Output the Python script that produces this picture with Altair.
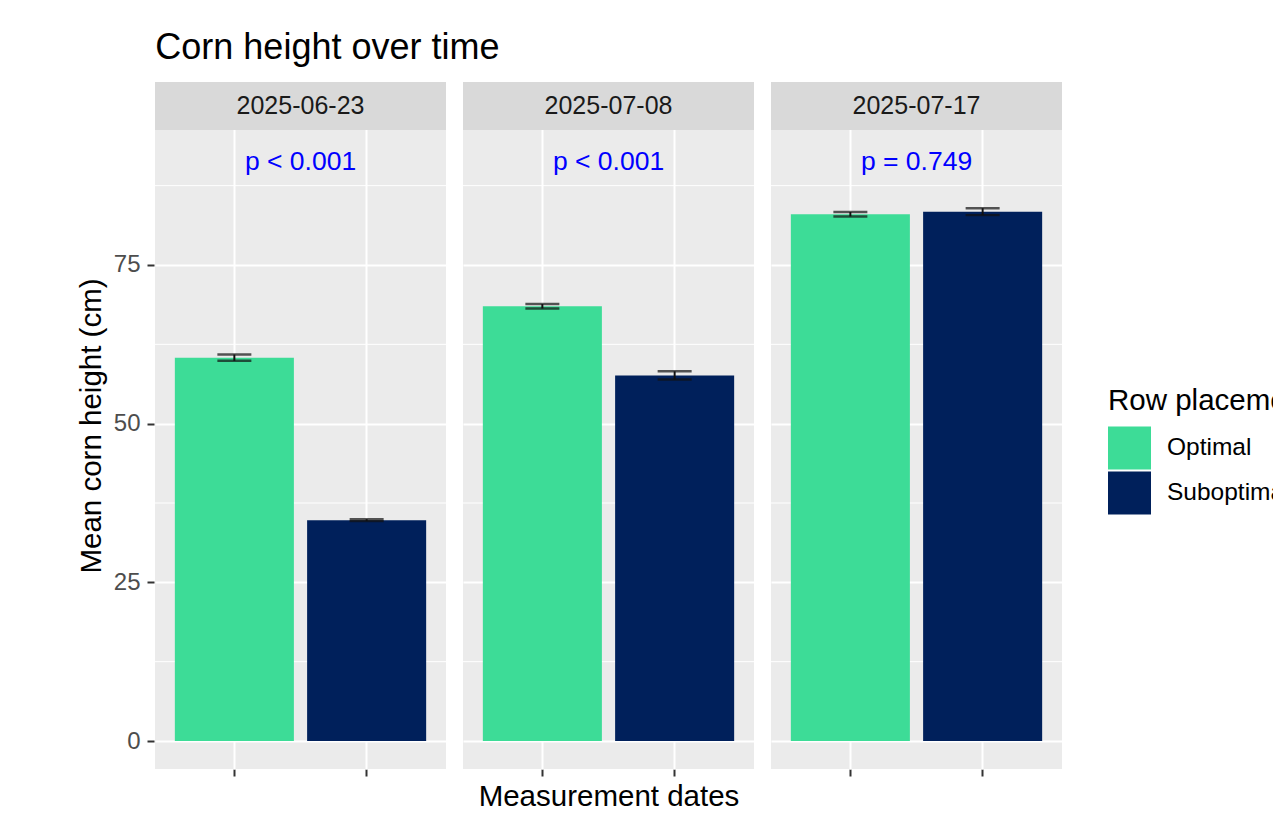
import altair as alt
import pandas as pd

# ---- data ----
DATES = ["2025-06-23", "2025-07-08", "2025-07-17"]
GROUPS = ["Optimal", "Suboptimal"]
OPT_MEAN = [60.4, 68.5, 83.0]
SUB_MEAN = [34.8, 57.6, 83.4]
OPT_SE = [0.5, 0.35, 0.35]
SUB_SE = [0.15, 0.65, 0.55]
P_LABELS = ["p < 0.001", "p < 0.001", "p = 0.749"]
P_LABEL_Y = 91.2
Y_TICKS = [0, 25, 50, 75]
COLORS = ["#3DDC97", "#00205B"]

rows = []
for i, d in enumerate(DATES):
    for g, m, s in ((GROUPS[0], OPT_MEAN[i], OPT_SE[i]), (GROUPS[1], SUB_MEAN[i], SUB_SE[i])):
        rows.append({"Date": d, "Group": g, "Mean": m, "Low": m - s, "High": m + s, "P": P_LABELS[i]})
df = pd.DataFrame(rows)

# ---- layout ----
W = 291
H = 687
Y_DOMAIN = [-4.41, 103.83]
PANEL_TOP = 96.27
FONT = "Liberation Sans"
step = Y_TICKS[1] - Y_TICKS[0]
MINOR = [t + step / 2 for t in Y_TICKS]

y_scale = alt.Scale(domain=Y_DOMAIN, nice=False, zero=False)
y_axis = alt.Axis(values=Y_TICKS, title="Mean corn height (cm)", domain=False,
                  grid=True, gridColor="white", gridWidth=2,
                  tickColor="#333333", tickSize=7, tickWidth=2,
                  labelFontSize=24, labelColor="#4D4D4D", labelPadding=7,
                  titleFontSize=29.5, titleColor="black", titleFontWeight="normal",
                  titlePadding=7, titleFont=FONT, labelFont=FONT)
x_enc = alt.X("Group:N", sort=GROUPS,
              scale=alt.Scale(paddingInner=0.1, paddingOuter=0.15),
              axis=alt.Axis(labels=False, title=None, domain=False, ticks=True,
                            tickSize=7, tickColor="#333333", tickWidth=2,
                            grid=True, gridColor="white", gridWidth=2,
                            bandPosition=0.5))

one = alt.datum.Group == GROUPS[0]

minor = alt.Chart().transform_filter(one).transform_calculate(
    minor=str(MINOR)).transform_flatten(["minor"]).mark_rule(
    color="white", strokeWidth=1).encode(
    y=alt.Y("minor:Q", scale=y_scale, axis=y_axis))

bars = alt.Chart().mark_bar().encode(
    x=x_enc,
    y=alt.Y("Mean:Q", scale=y_scale, axis=y_axis),
    color=alt.Color("Group:N", scale=alt.Scale(domain=GROUPS, range=COLORS),
                    legend=alt.Legend(title="Row placement", orient="none",
                                      legendX=953, legendY=305,
                                      symbolType="square", symbolSize=1849,
                                      symbolStrokeWidth=0, labelFontSize=24.5,
                                      titleFontSize=29.5, titleFontWeight="normal",
                                      titleColor="black", labelColor="black",
                                      labelOffset=16, rowPadding=2,
                                      titlePadding=10, titleFont=FONT,
                                      labelFont=FONT, padding=0,
                                      titleLimit=600, labelLimit=600)))

err = alt.Chart().mark_rule(color="#111111", strokeWidth=2).encode(
    x=x_enc, y=alt.Y("Low:Q", scale=y_scale, axis=y_axis), y2="High:Q")
cap_lo = alt.Chart().mark_tick(color="#111111", size=34, thickness=2.4).encode(
    x=x_enc, y=alt.Y("Low:Q", scale=y_scale, axis=y_axis))
cap_hi = alt.Chart().mark_tick(color="#111111", size=34, thickness=2.4).encode(
    x=x_enc, y=alt.Y("High:Q", scale=y_scale, axis=y_axis))

strip = alt.Chart().transform_filter(one).mark_rect(color="#D9D9D9").encode(
    x=alt.value(0), x2=alt.value(W),
    y=alt.datum(PANEL_TOP), y2=alt.datum(Y_DOMAIN[1]))
strip_text = alt.Chart().transform_filter(one).mark_text(
    fontSize=25, color="#1A1A1A", font=FONT, baseline="middle").encode(
    x=alt.value(W / 2), y=alt.datum((PANEL_TOP + Y_DOMAIN[1]) / 2), text="Date:N")
p_text = alt.Chart().transform_filter(one).mark_text(
    fontSize=26.5, color="blue", font=FONT, baseline="middle").encode(
    x=alt.value(W / 2), y=alt.datum(P_LABEL_Y), text="P:N")

layered = alt.layer(minor, bars, err, cap_lo, cap_hi, strip, strip_text, p_text,
                    data=df).properties(width=W, height=H)

chart = layered.facet(
    column=alt.Column("Date:N", sort=DATES,
                      header=alt.Header(labels=False, title="Measurement dates",
                                        titleOrient="bottom", titleFontSize=29.5,
                                        titleFont=FONT, titleColor="black",
                                        titleFontWeight="normal", titlePadding=-4)),
    spacing=15,
).properties(
    title=alt.Title("Corn height over time", fontSize=36, font=FONT,
                    fontWeight="normal", color="black", anchor="start",
                    offset=15, dx=79),
    padding={"left": 68, "top": 22, "right": -39, "bottom": 0},
).configure(font=FONT, background="white").configure_view(stroke=None, fill="#EBEBEB")

chart.save("out.html", embed_options={"renderer": "svg", "actions": False})
